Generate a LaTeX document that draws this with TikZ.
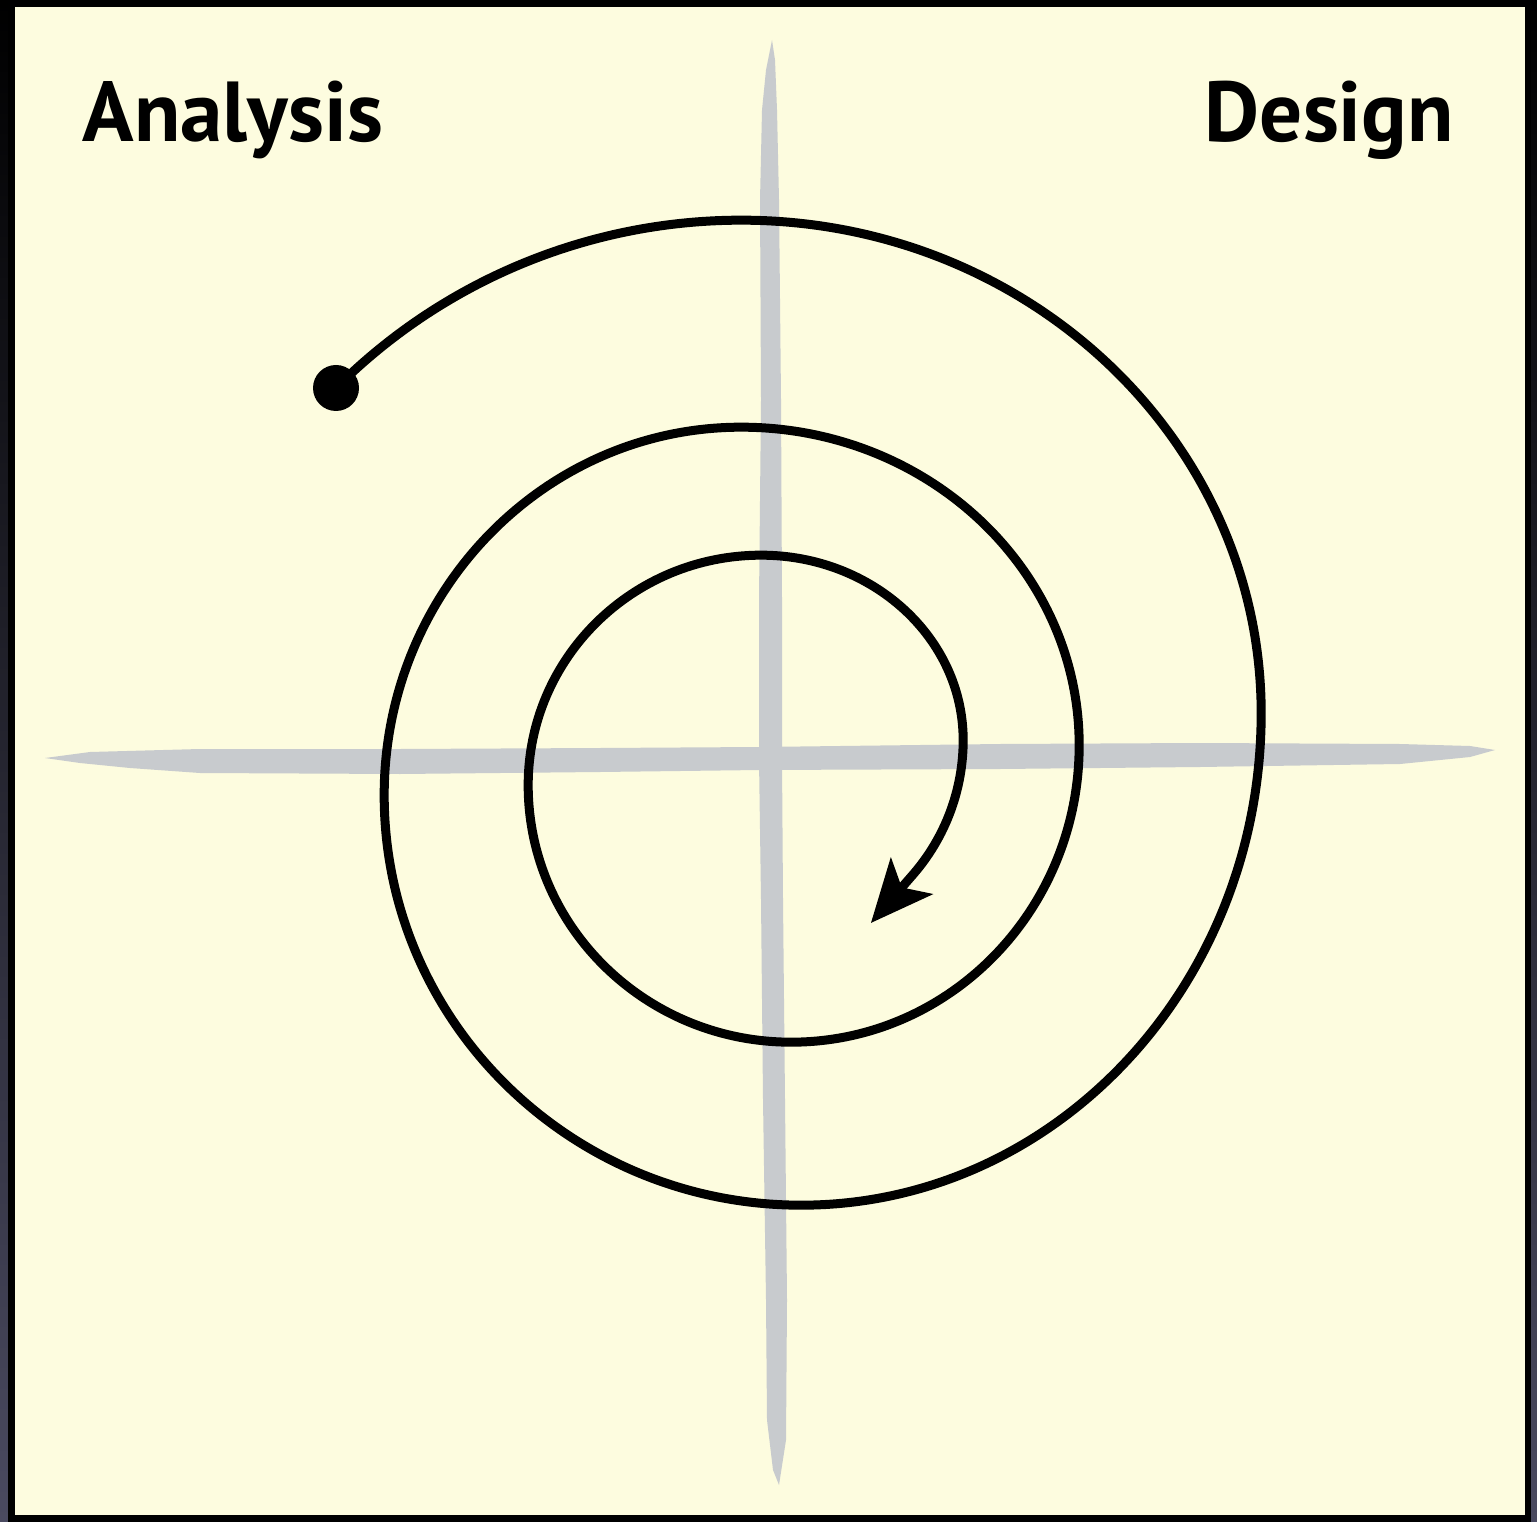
\documentclass[tikz,border=0pt]{standalone}
\usepackage{fontspec}
\setmainfont{PT Sans}
\usetikzlibrary{arrows.meta}
\definecolor{paper}{HTML}{FDFCDF}
\definecolor{chalk}{HTML}{C8CBCE}
\definecolor{slate}{HTML}{4A4A60}
\tikzset{
  spiral/.style={line width=0.09cm,-{Stealth[length=0.62cm,width=0.55cm,inset=0.15cm]}},
  title/.style={anchor=base west,inner sep=0pt,font=\fontsize{24.2pt}{28pt}\selectfont\bfseries}
}

\begin{document}
\begin{tikzpicture}[x=0.01cm,y=-0.01cm]
\useasboundingbox (0,0) rectangle (1537,1522);
\shade[top color=black,bottom color=slate] (0,0) rectangle (1537,1522);
\fill[black] (8,0) rectangle (1531,1522);
\fill[paper] (15,7) rectangle (1525,1515);

\fill[chalk] (772,40) -- (766,70) -- (762,110) -- (760,200) -- (761,400) -- (759,600) -- (759,760)
  -- (761,900) -- (763,1100) -- (766,1300) -- (767,1420) -- (773,1470) -- (779,1485)
  -- (786,1440) -- (787,1300) -- (785,1100) -- (783,900) -- (782,760) -- (782,600)
  -- (781,400) -- (779,200) -- (777,110) -- (775,60) -- cycle;
\fill[chalk] (45,758) -- (90,752) -- (200,749) -- (400,749) -- (600,748) -- (760,747) -- (1000,744)
  -- (1200,743) -- (1400,744) -- (1470,746) -- (1495,750)
  -- (1470,757) -- (1400,764) -- (1200,767) -- (1000,769) -- (760,770) -- (600,772)
  -- (400,774) -- (200,773) -- (130,768) -- (80,763) -- cycle;

\fill (336,388) circle (23);
\draw[spiral] (336,388) arc[start angle=225,end angle=270,radius=573]
  arc[start angle=270,end angle=360,x radius=520,y radius=493]
  arc[start angle=0,end angle=90,x radius=460,y radius=492]
  arc[start angle=90,end angle=180,x radius=417,y radius=410]
  arc[start angle=180,end angle=270,x radius=357,y radius=368]
  arc[start angle=270,end angle=360,x radius=338,y radius=318]
  arc[start angle=0,end angle=90,x radius=288,y radius=297]
  arc[start angle=90,end angle=180,x radius=263,y radius=257]
  arc[start angle=180,end angle=270,x radius=233,y radius=230]
  arc[start angle=270,end angle=360,x radius=202,y radius=185]
  arc[start angle=0,end angle=41,radius=205]
  -- ++(131:64);

\node[title] (analysis) at (82,142) {Analysis};
\node[title] (design) at (1204,142) {Design};
\end{tikzpicture}
\end{document}
